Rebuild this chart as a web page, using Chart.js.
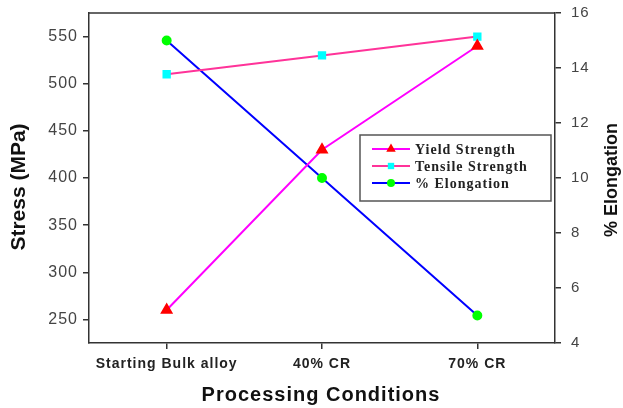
<!DOCTYPE html>
<html>
<head>
<meta charset="utf-8">
<script src="https://cdn.jsdelivr.net/npm/chart.js@4/dist/chart.umd.min.js"></script>
<style>
  html, body { margin: 0; padding: 0; background: #ffffff; }
  #wrap { width: 623px; height: 408px; }
</style>
</head>
<body>
<div id="wrap"><canvas id="chart" width="623" height="408"></canvas></div>
<script>
const conditions = ["Starting Bulk alloy", "40% CR", "70% CR"];
const yieldStrength = [260, 430, 540];
const tensileStrength = [510, 530, 550];
const elongation = [15, 10, 5];
const stressTicks = [250, 300, 350, 400, 450, 500, 550];
const elongTicks = [4, 6, 8, 10, 12, 14, 16];

const axisColor = "#333333";
const sans = "'Liberation Sans', Arial, sans-serif";
const serif = "'Liberation Serif', 'Times New Roman', serif";

const legendItems = [
  { text: "Yield Strength", line: "#ff00ff", fill: "#ff0000", style: "triangle", r: 5.5 },
  { text: "Tensile Strength", line: "#ff3399", fill: "#00ffff", style: "rect", r: 4.5 },
  { text: "% Elongation", line: "#0000ff", fill: "#00ff00", style: "circle", r: 4 }
];

const decorPlugin = {
  id: "decor",
  beforeDraw(chart) {
    // the source figure has slightly spread-out lettering
    chart.ctx.letterSpacing = "1px";
  },
  afterDraw(chart) {
    const ctx = chart.ctx;
    const a = chart.chartArea;
    ctx.save();
    // top frame line
    ctx.strokeStyle = axisColor;
    ctx.lineWidth = 1.5;
    ctx.beginPath();
    ctx.moveTo(a.left, a.top);
    ctx.lineTo(a.right, a.top);
    ctx.stroke();

    // axis titles
    ctx.fillStyle = "#111111";
    ctx.textAlign = "center";
    ctx.textBaseline = "middle";
    ctx.letterSpacing = "0px";
    ctx.font = "bold 21px " + sans;
    ctx.save();
    ctx.translate(19, 187);
    ctx.rotate(-Math.PI / 2);
    ctx.fillText("Stress (MPa)", 0, 0);
    ctx.restore();

    ctx.save();
    ctx.translate(612, 180);
    ctx.rotate(-Math.PI / 2);
    ctx.font = "bold 18px " + sans;
    ctx.fillText("% Elongation", 0, 0);
    ctx.restore();

    ctx.letterSpacing = "1px";
    ctx.font = "bold 20px " + sans;
    ctx.fillText("Processing Conditions", 321, 395);

    // legend box
    ctx.strokeStyle = "#555555";
    ctx.lineWidth = 1.5;
    ctx.strokeRect(360, 135, 191, 66);
    legendItems.forEach((it, i) => {
      const y = 149 + i * 17;
      ctx.strokeStyle = it.line;
      ctx.lineWidth = 2;
      ctx.beginPath();
      ctx.moveTo(372, y);
      ctx.lineTo(410, y);
      ctx.stroke();
      ctx.fillStyle = it.fill;
      ctx.strokeStyle = it.fill;
      Chart.helpers.drawPoint(ctx, { pointStyle: it.style, radius: it.r, borderWidth: 0 }, 391, y);
      ctx.fillStyle = "#222222";
      ctx.textAlign = "left";
      ctx.font = "bold 14px " + serif;
      ctx.letterSpacing = "1px";
      ctx.fillText(it.text, 415, y + 1);
    });
    ctx.restore();
  }
};

function noVertPadding(s) {
  s.paddingTop = 0;
  s.paddingBottom = 0;
}

new Chart(document.getElementById("chart").getContext("2d"), {
  type: "line",
  data: {
    labels: conditions,
    datasets: [
      {
        label: "Yield Strength",
        data: yieldStrength,
        yAxisID: "y",
        borderColor: "#ff00ff",
        borderWidth: 2,
        pointStyle: "triangle",
        pointRadius: 5.5,
        pointBackgroundColor: "#ff0000",
        pointBorderColor: "#ff0000",
        tension: 0
      },
      {
        label: "Tensile Strength",
        data: tensileStrength,
        yAxisID: "y",
        borderColor: "#ff3399",
        borderWidth: 2,
        pointStyle: "rect",
        pointRadius: 4.5,
        pointBackgroundColor: "#00ffff",
        pointBorderColor: "#00ffff",
        tension: 0
      },
      {
        label: "% Elongation",
        data: elongation,
        yAxisID: "y1",
        borderColor: "#0000ff",
        borderWidth: 2,
        pointStyle: "circle",
        pointRadius: 4,
        pointBackgroundColor: "#00ff00",
        pointBorderColor: "#00ff00",
        tension: 0
      }
    ]
  },
  options: {
    responsive: false,
    animation: false,
    layout: { padding: { top: 13, left: 0, right: 0, bottom: 0 } },
    plugins: {
      legend: { display: false },
      tooltip: { enabled: false }
    },
    scales: {
      x: {
        offset: true,
        grid: { display: true, drawOnChartArea: false, offset: false, tickLength: 6, color: axisColor, lineWidth: 1.5 },
        border: { color: axisColor, width: 1.5 },
        ticks: { color: "#222222", font: { family: sans, size: 14, weight: "bold" }, padding: 7, maxRotation: 0 },
        afterFit(s) { s.height = 65; s.paddingLeft = 0; s.paddingRight = 0; }
      },
      y: {
        position: "left",
        min: 225,
        max: 575,
        grid: { display: true, drawOnChartArea: false, tickLength: 6, color: axisColor, lineWidth: 1.5 },
        border: { color: axisColor, width: 1.5 },
        ticks: { color: "#444444", font: { family: sans, size: 16 }, padding: 5 },
        afterBuildTicks(s) { s.ticks = stressTicks.map(v => ({ value: v })); },
        afterFit(s) { s.width = 89; noVertPadding(s); }
      },
      y1: {
        position: "right",
        min: 4,
        max: 16,
        grid: { display: true, drawOnChartArea: false, tickLength: 6, color: axisColor, lineWidth: 1.5 },
        border: { color: axisColor, width: 1.5 },
        ticks: { color: "#444444", font: { family: sans, size: 15 }, padding: 10 },
        afterBuildTicks(s) { s.ticks = elongTicks.map(v => ({ value: v })); },
        afterFit(s) { s.width = 68; noVertPadding(s); }
      }
    }
  },
  plugins: [decorPlugin]
});
</script>
</body>
</html>
